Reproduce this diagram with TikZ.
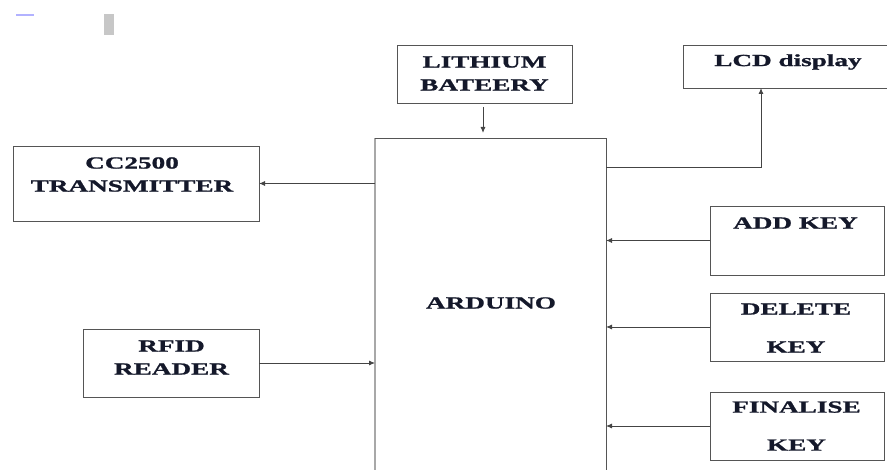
\documentclass[tikz,border=0pt]{standalone}
\usepackage{fontspec}
\setmainfont{Liberation Serif}
\newfontfamily\lblfont{Liberation Serif Bold}[FakeStretch=1.6, FakeBold=1.2]
\usetikzlibrary{arrows.meta}
\definecolor{boxline}{HTML}{555555}
\definecolor{ardleft}{HTML}{A8A8A8}
\definecolor{txt}{HTML}{14182A}
\tikzset{
  box/.style={draw=boxline, line width=0.9pt, inner sep=0pt, outer sep=0pt},
  lbl/.style={text=txt, font=\fontsize{17}{23}\selectfont\lblfont, align=center, inner sep=0pt},
  arr/.style={draw=boxline!80!black, line width=0.9pt, -{Latex[length=6pt,width=5pt]}}
}
\begin{document}
\begin{tikzpicture}[x=1pt,y=-1pt]
\useasboundingbox (0,0) rectangle (887,470);
% artifacts top-left
\fill[fill=blue!30!white] (16,14) rectangle (34,16);
\fill[fill=black!22] (104,14) rectangle (114,35);

% boxes
\node[box, minimum width=175pt, minimum height=58pt] (bat) at (484.5,74) {};
\node[box, minimum width=246pt, minimum height=75pt] (cc) at (136,183.5) {};
\node[box, minimum width=176pt, minimum height=68pt] (rfid) at (171,363) {};
\node[box, minimum width=174pt, minimum height=69pt] (add) at (797,240.5) {};
\node[box, minimum width=174pt, minimum height=68pt] (del) at (797,327) {};
\node[box, minimum width=174pt, minimum height=68pt] (fin) at (797,426) {};
\node[inner sep=0pt, outer sep=0pt, minimum width=231pt, minimum height=344pt] (ard) at (490.5,310) {};
\draw[ardleft, line width=1.8pt] (ard.south west) -- (ard.north west);
\draw[boxline, line width=0.9pt] (ard.north west) -- (ard.north east) -- (ard.south east);
\node[inner sep=0pt, outer sep=0pt, minimum width=217pt, minimum height=43pt] (lcd) at (791.5,66.5) {};
\draw[boxline, line width=0.9pt] (lcd.north east) -- (lcd.north west) -- (lcd.south west) -- (lcd.south east);

% labels
\node[lbl] (batt) at (484.5,73.5) {LITHIUM\\BATEERY};
\node[lbl] (cct) at (132,174.5) {CC2500\\TRANSMITTER};
\node[lbl] (rfidt) at (171.5,357.5) {RFID\\READER};
\node[lbl] (lcdt) at (788,62) {LCD display};
\node[lbl] (addt) at (795.5,223) {ADD KEY};
\node[lbl] (delt) at (796,328) {DELETE\\[15pt]KEY};
\node[lbl] (fint) at (796.5,426) {FINALISE\\[15pt]KEY};
\node[lbl] (ardt) at (491,303) {ARDUINO};

% connectors
\coordinate (lcdtap) at (606,167);
\coordinate (lcdin) at (761,88);
\draw[arr, shorten <=4pt, shorten >=5pt] (bat.south -| 483,0) -- (ard.north -| 483,0);
\draw[arr] (ard.west |- cc.east) -- (cc.east);
\draw[arr] (rfid.east) -- (rfid.east -| ard.west);
\draw[arr] (lcdtap) -| (lcdin);
\draw[arr] (add.west) -- (add.west -| ard.east);
\draw[arr] (del.west) -- (del.west -| ard.east);
\draw[arr] (fin.west) -- (fin.west -| ard.east);
\end{tikzpicture}
\end{document}
